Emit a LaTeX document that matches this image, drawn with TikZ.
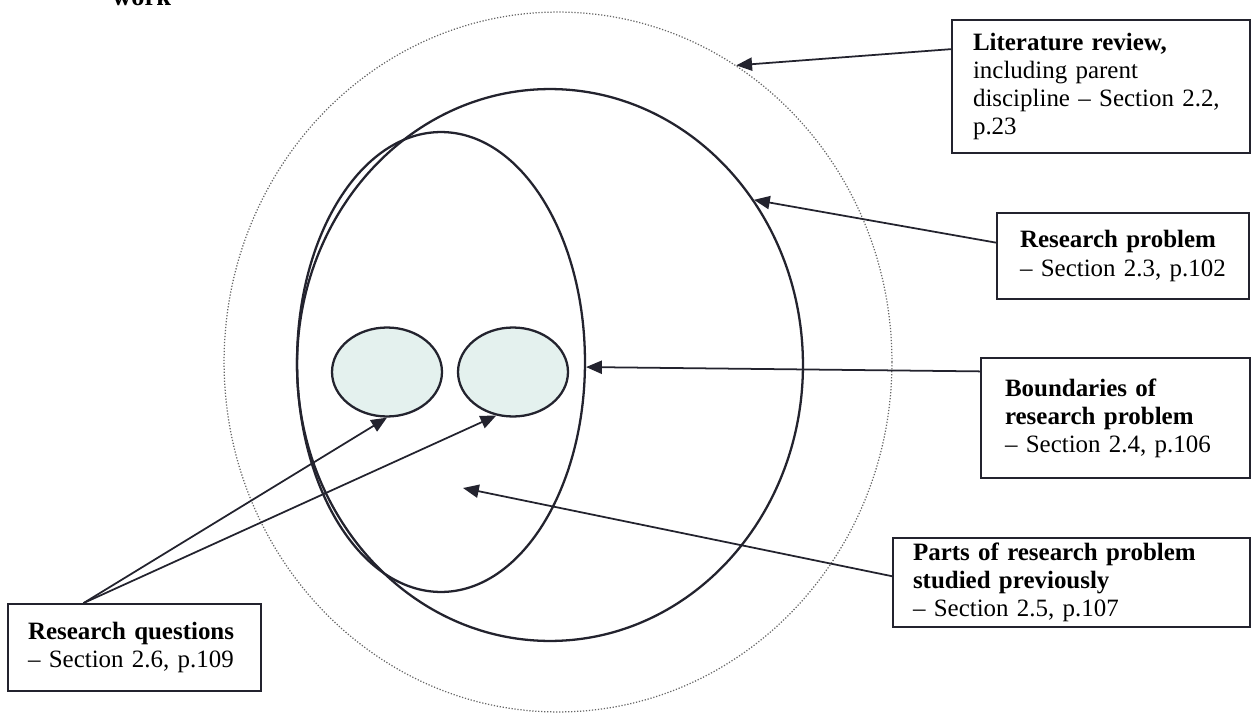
\documentclass[tikz,border=0pt]{standalone}
\usepackage{fontspec}
\setmainfont{Liberation Serif}
\usetikzlibrary{arrows.meta,shapes.geometric}
\definecolor{ink}{HTML}{23232E}
\definecolor{qfill}{HTML}{E4F1EE}
\begin{document}
\begin{tikzpicture}[x=0.02cm,y=-0.02cm,
  lbl/.style={draw=ink, line width=1pt, fill=white, align=left, text=black,
    font=\fontsize{14.2}{16}\selectfont, inner ysep=0pt},
  arr/.style={draw=ink, line width=1pt, -{Triangle[length=9pt,width=7.5pt]}},
  ring/.style={ellipse, draw=ink, line width=1.3pt, inner sep=0pt},
  dotring/.style={ellipse, draw=black!60, line width=0.7pt, densely dotted, inner sep=0pt},
  qring/.style={ellipse, draw=ink, line width=1.3pt, fill=qfill, inner sep=0pt,
    minimum width=2.2cm, minimum height=1.78cm}]
\useasboundingbox (0,0) rectangle (1254,713);

\node[font=\fontsize{15}{16}\selectfont\bfseries, anchor=base west, inner sep=0pt] (ttl) at (112,6) {work};

\node[dotring, minimum width=13.36cm, minimum height=14.0cm] (outer) at (558,362) {};
\node[ring, minimum width=10.12cm, minimum height=11.04cm] (mid) at (550,365) {};
\node[ring, minimum width=5.76cm, minimum height=9.2cm] (inner) at (441,362) {};
\node[qring] (q1) at (387,372) {};
\node[qring] (q2) at (513,372) {};

\node[lbl, minimum height=2.66cm, text width=5.12cm, inner xsep=0.42cm] (lit) at (1101,86.5)
  {\textbf{Literature review,}\\ including parent\\ discipline -- Section 2.2,\\ p.23};
\node[lbl, minimum height=1.72cm, text width=4.12cm, inner xsep=0.46cm] (rp) at (1123,256)
  {\textbf{Research problem}\\ -- Section 2.3, p.102};
\node[lbl, minimum height=2.4cm, text width=4.42cm, inner xsep=0.48cm] (bd) at (1115.5,418)
  {\textbf{Boundaries of}\\ \textbf{research problem}\\ -- Section 2.4, p.106};
\node[lbl, minimum height=1.78cm, text width=6.34cm, inner xsep=0.4cm] (pt) at (1071.5,582.5)
  {\textbf{Parts of research problem}\\ \textbf{studied previously}\\ -- Section 2.5, p.107};
\node[lbl, minimum height=1.74cm, text width=4.26cm, inner xsep=0.4cm] (rq) at (134.5,647.5)
  {\textbf{Research questions}\\ -- Section 2.6, p.109};

\coordinate (ptT) at (463,488);

\draw[arr] (lit.166) -- (outer.59.2);
\draw[arr] (rp.174) -- (mid.39.2);
\draw[arr] (bd.161) -- (inner.-2);
\draw[arr] (pt.178) -- (ptT);
\draw[arr] (rq.139) -- (q1.south);
\draw[arr] (rq.139) -- (q2.-111);
\end{tikzpicture}
\end{document}
